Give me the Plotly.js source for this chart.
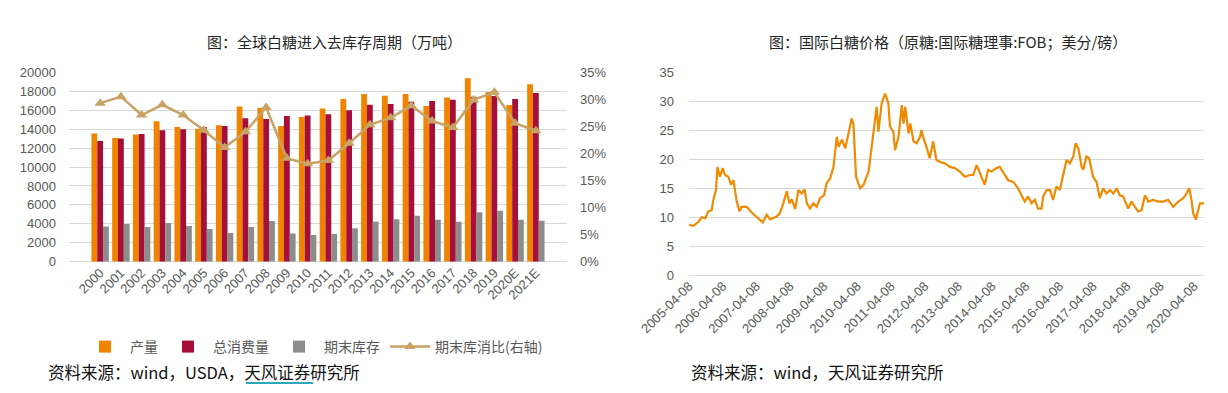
<!DOCTYPE html>
<html>
<head>
<meta charset="utf-8">
<script src="https://cdn.plot.ly/plotly-3.0.1.min.js"></script>
<style>
html,body{margin:0;padding:0;background:#fff;}
#chart{width:1228px;height:393px;}
</style>
</head>
<body>
<div id="chart"></div>
<script>
// ---- Left chart data (万吨) ----
const years = ['2000','2001','2002','2003','2004','2005','2006','2007','2008','2009','2010','2011','2012','2013','2014','2015','2016','2017','2018','2019','2020E','2021E'];
const production = [13550,13060,13420,14830,14220,14050,14400,16400,16260,14330,15280,16190,17180,17710,17530,17720,16440,17350,19360,17920,16540,18730];
const consumption = [12740,13020,13480,13870,13980,14220,14330,15140,15070,15380,15450,15560,15980,16580,16650,16900,16970,17110,17420,17500,17180,17810];
const endStock = [3730,3980,3660,4080,3770,3450,3030,3660,4290,2990,2820,2920,3520,4220,4470,4860,4440,4220,5210,5390,4440,4330];
const stockRatio = [0.293,0.305,0.271,0.290,0.271,0.243,0.211,0.240,0.285,0.191,0.181,0.187,0.219,0.253,0.266,0.288,0.260,0.248,0.299,0.313,0.256,0.242];

// ---- Right chart data (美分/磅) ----
const priceDates = ['2005-04-08','2005-05-25','2005-07-20','2005-08-25','2005-10-01','2005-11-03','2005-12-10','2005-12-28','2006-01-26','2006-02-10','2006-03-10','2006-04-08','2006-05-03','2006-06-10','2006-07-08','2006-08-03','2006-09-08','2006-10-08','2006-10-30','2006-12-25','2007-02-17','2007-04-12','2007-06-17','2007-07-30','2007-09-05','2007-11-15','2007-12-20','2008-01-26','2008-03-03','2008-04-01','2008-04-27','2008-06-03','2008-07-08','2008-08-13','2008-09-12','2008-10-08','2008-11-10','2008-12-17','2009-01-22','2009-02-27','2009-04-12','2009-05-10','2009-06-17','2009-07-23','2009-08-28','2009-09-16','2009-10-23','2009-11-28','2010-01-04','2010-02-06','2010-02-25','2010-03-25','2010-05-08','2010-06-14','2010-08-08','2010-10-01','2010-11-03','2010-11-22','2010-12-28','2011-02-03','2011-03-10','2011-03-28','2011-05-03','2011-05-22','2011-06-28','2011-08-03','2011-08-22','2011-09-09','2011-10-15','2011-11-03','2011-12-09','2012-01-12','2012-02-17','2012-03-03','2012-03-21','2012-04-26','2012-06-01','2012-07-08','2012-08-13','2012-09-19','2012-11-13','2013-01-08','2013-02-28','2013-04-23','2013-06-17','2013-08-11','2013-09-16','2013-10-23','2013-11-28','2014-01-19','2014-02-25','2014-04-01','2014-05-26','2014-07-01','2014-08-25','2014-10-01','2014-11-25','2015-01-15','2015-02-21','2015-03-29','2015-05-04','2015-06-10','2015-07-16','2015-08-21','2015-09-27','2015-10-15','2015-11-21','2015-12-28','2016-01-30','2016-03-07','2016-04-12','2016-05-18','2016-06-24','2016-07-30','2016-09-05','2016-10-01','2016-10-30','2016-12-05','2016-12-23','2017-01-26','2017-02-24','2017-04-08','2017-05-15','2017-06-20','2017-07-26','2017-09-01','2017-10-08','2017-11-13','2017-12-20','2018-01-22','2018-02-28','2018-04-23','2018-05-30','2018-07-05','2018-08-11','2018-09-16','2018-10-23','2018-11-28','2019-01-19','2019-03-15','2019-05-09','2019-07-01','2019-08-25','2019-10-19','2019-12-13','2020-01-16','2020-02-14','2020-03-10','2020-03-28','2020-04-27','2020-05-22','2020-06-10','2020-07-24'];
const priceValues = [8.65,8.5,9.2,10.0,9.8,11.0,11.2,13.0,14.7,18.7,17.0,18.5,17.3,17.0,15.6,16.4,12.7,11.0,11.8,11.8,10.8,10.1,9.1,10.4,9.6,10.1,10.7,12.4,14.5,12.4,13.1,11.4,14.7,14.1,14.8,12.4,11.5,12.4,11.8,13.3,13.8,15.9,16.7,18.7,23.9,22.2,23.4,21.9,24.5,27.1,26.0,17.0,15.0,15.6,17.9,24.5,29.1,24.8,29.7,31.4,29.7,25.7,24.8,21.6,23.9,29.4,26.2,29.1,24.5,26.2,23.1,22.8,23.9,25.1,23.9,22.2,20.2,23.1,19.9,19.6,19.3,18.7,18.5,17.9,17.0,17.3,17.3,19.0,17.6,15.6,18.2,17.9,18.5,18.7,17.3,16.4,16.1,15.0,13.8,12.7,13.6,12.4,13.0,11.5,11.5,13.6,14.7,14.7,13.0,15.3,14.7,17.3,19.9,19.3,20.5,22.8,21.9,18.7,18.2,20.5,20.2,17.0,16.1,13.3,15.0,14.1,14.7,14.1,15.0,13.8,13.6,11.5,12.7,11.8,11.0,11.2,13.8,12.7,13.0,12.7,12.7,13.0,11.8,12.7,13.3,14.1,15.0,13.0,10.7,9.6,11.0,12.4,12.4];
const priceTickVals = ['2005-04-08','2006-04-08','2007-04-08','2008-04-08','2009-04-08','2010-04-08','2011-04-08','2012-04-08','2013-04-08','2014-04-08','2015-04-08','2016-04-08','2017-04-08','2018-04-08','2019-04-08','2020-04-08'];

const W = 1228, H = 393;
const px = v => v / W;
const py = v => (H - v) / H;

const tickFont = {family: 'Liberation Sans, Arial, sans-serif', size: 13, color: '#595959'};
const gridColor = '#d9d9d9';

const traces = [
  {type: 'bar', name: '产量', x: years, y: production, marker: {color: '#F08300'}, xaxis: 'x', yaxis: 'y'},
  {type: 'bar', name: '总消费量', x: years, y: consumption, marker: {color: '#A50F38'}, xaxis: 'x', yaxis: 'y'},
  {type: 'bar', name: '期末库存', x: years, y: endStock, marker: {color: '#8C8C8C'}, xaxis: 'x', yaxis: 'y'},
  {type: 'scatter', mode: 'lines+markers', name: '期末库消比(右轴)', x: years, y: stockRatio,
   line: {color: '#C8A366', width: 2.5}, marker: {symbol: 'triangle-up', size: 10, color: '#C8A366'},
   xaxis: 'x', yaxis: 'y2'},
  {type: 'scatter', mode: 'lines', name: '价格', x: priceDates, y: priceValues, showlegend: false,
   line: {color: '#F08A00', width: 2.2}, xaxis: 'x2', yaxis: 'y3'}
];

const layout = {
  width: W, height: H,
  margin: {l: 0, r: 0, t: 0, b: 0},
  paper_bgcolor: '#fff', plot_bgcolor: '#fff',
  barmode: 'group', bargap: 0.16, bargroupgap: 0,
  showlegend: true,
  legend: {orientation: 'h', x: px(80), y: py(347), xanchor: 'left', yanchor: 'middle',
           font: {family: 'Noto Sans CJK SC, sans-serif', size: 14, color: '#595959'},
           itemwidth: 40, bgcolor: 'rgba(0,0,0,0)'},
  xaxis: {domain: [px(69), px(567)], anchor: 'y', type: 'category', tickangle: -45,
          tickfont: tickFont, showgrid: false, showline: false, ticks: '', fixedrange: true},
  yaxis: {domain: [py(261.7), py(72.3)], anchor: 'x', range: [0, 20000], dtick: 2000, tickformat: 'd',
          tickfont: tickFont, gridcolor: gridColor, gridwidth: 1, zeroline: true, zerolinecolor: gridColor,
          showline: false, ticks: '', ticklabelstandoff: 12},
  yaxis2: {overlaying: 'y', side: 'right', anchor: 'x', range: [0, 0.35], dtick: 0.05, tickformat: '.0%',
           tickfont: tickFont, showgrid: false, zeroline: false, showline: false, ticks: '', ticklabelstandoff: 12},
  xaxis2: {domain: [px(689), px(1204)], anchor: 'y3', type: 'date',
           range: ['2005-04-08', '2020-07-24'], tickvals: priceTickVals, ticktext: priceTickVals,
           tickangle: -45, tickfont: tickFont, showgrid: false, showline: false, ticks: ''},
  yaxis3: {domain: [py(275), py(72.7)], anchor: 'x2', range: [0, 35], dtick: 5,
           tickfont: tickFont, gridcolor: gridColor, gridwidth: 1, zeroline: true, zerolinecolor: gridColor,
           showline: false, ticks: '', ticklabelstandoff: 14},
  annotations: [
    {text: '图：全球白糖进入去库存周期（万吨）', xref: 'paper', yref: 'paper', x: px(334), y: py(42),
     showarrow: false, xanchor: 'center', yanchor: 'middle',
     font: {family: 'Noto Sans CJK SC, sans-serif', size: 15, color: '#262626'}},
    {text: '图：国际白糖价格（原糖:国际糖理事:FOB；美分/磅）', xref: 'paper', yref: 'paper', x: px(948), y: py(42),
     showarrow: false, xanchor: 'center', yanchor: 'middle',
     font: {family: 'Noto Sans CJK SC, sans-serif', size: 15, color: '#262626'}},
    {text: '资料来源：wind，USDA，天风证券研究所', xref: 'paper', yref: 'paper', x: px(46), y: py(372),
     showarrow: false, xanchor: 'left', yanchor: 'middle',
     font: {family: 'Noto Sans CJK SC, sans-serif', size: 16.5, color: '#111'}},
    {text: '资料来源：wind，天风证券研究所', xref: 'paper', yref: 'paper', x: px(689), y: py(372),
     showarrow: false, xanchor: 'left', yanchor: 'middle',
     font: {family: 'Noto Sans CJK SC, sans-serif', size: 16.5, color: '#111'}}
  ],
  shapes: [
    {type: 'line', xref: 'paper', yref: 'paper', x0: px(246), x1: px(313), y0: py(383), y1: py(383),
     line: {color: '#2AA7B9', width: 2}}
  ]
};

Plotly.newPlot('chart', traces, layout, {displayModeBar: false, staticPlot: true});
</script>
</body>
</html>
